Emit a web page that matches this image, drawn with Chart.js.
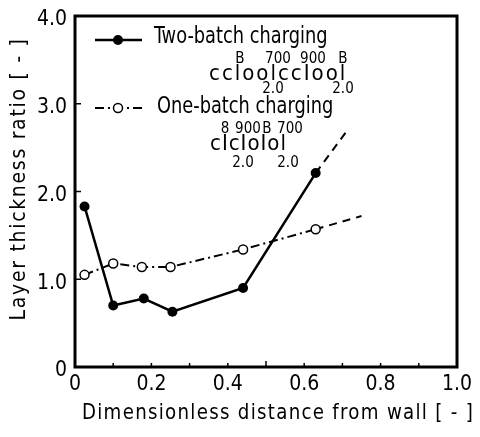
<!DOCTYPE html>
<html lang="en">
<head>
    <meta charset="UTF-8">
    <title>Layer thickness ratio</title>
    <style>
        html, body { margin: 0; padding: 0; background: #fff; }
        #wrap { width: 480px; height: 437px; }
    </style>
</head>
<body>
    <div id="wrap"><canvas id="thicknessChart"></canvas></div>

    <script src="https://cdn.jsdelivr.net/npm/chart.js"></script>
    <script>
        // data
        const twoBatchX = [0.025, 0.10, 0.18, 0.255, 0.44, 0.63];
        const twoBatchY = [1.83, 0.70, 0.78, 0.63, 0.90, 2.21];
        const twoBatchExtX = [0.63, 0.71];
        const twoBatchExtY = [2.21, 2.68];

        const oneBatchX = [0.025, 0.10, 0.175, 0.25, 0.44, 0.63];
        const oneBatchY = [1.05, 1.18, 1.14, 1.14, 1.34, 1.57];
        const oneBatchExtX = [0.63, 0.75];
        const oneBatchExtY = [1.57, 1.72];

        const xTickLabels = ['0', '0.2', '0.4', '0.6', '0.8', '1.0'];
        const yTickLabels = ['0', '1.0', '2.0', '3.0', '4.0'];

        const FONT = "'Liberation Sans Narrow', 'DejaVu Sans Condensed', 'Roboto Condensed', sans-serif";

        function pts(xs, ys) {
            return xs.map((x, i) => ({ x: x, y: ys[i] }));
        }

        // narrow, tall text like the original lettering
        function narrowText(ctx, text, x, y, size, sx, spacing) {
            ctx.save();
            ctx.font = size + 'px ' + FONT;
            ctx.letterSpacing = (spacing || 0) + 'px';
            ctx.translate(x, y);
            ctx.scale(sx, 1);
            ctx.fillText(text, 0, 0);
            ctx.restore();
        }

        // frame, inner ticks, titles, legend and the formula notes
        const extras = {
            id: 'extras',
            afterDraw(chart) {
                const ctx = chart.ctx;
                const a = chart.chartArea;
                const xs = chart.scales.x;
                const ys = chart.scales.y;
                ctx.save();
                ctx.strokeStyle = '#000';
                ctx.lineWidth = 3;
                ctx.strokeRect(a.left, a.top, a.right - a.left, a.bottom - a.top);

                ctx.lineWidth = 1.5;
                for (let i = 1; i < 10; i++) {
                    const px = xs.getPixelForValue(i / 10);
                    ctx.beginPath();
                    ctx.moveTo(px, a.bottom);
                    ctx.lineTo(px, a.bottom - (i % 5 === 0 ? 6 : 4));
                    ctx.stroke();
                }
                for (let i = 1; i < 4; i++) {
                    const py = ys.getPixelForValue(i);
                    ctx.beginPath();
                    ctx.moveTo(a.left, py);
                    ctx.lineTo(a.left + 6, py);
                    ctx.stroke();
                }

                // legend samples
                ctx.lineWidth = 2.5;
                ctx.setLineDash([]);
                ctx.beginPath();
                ctx.moveTo(95, 40); ctx.lineTo(142, 40);
                ctx.stroke();
                ctx.fillStyle = '#000';
                ctx.beginPath();
                ctx.arc(118, 40, 5, 0, Math.PI * 2);
                ctx.fill();

                ctx.lineWidth = 2;
                ctx.setLineDash([9, 4, 2, 4]);
                ctx.beginPath();
                ctx.moveTo(95, 108); ctx.lineTo(142, 108);
                ctx.stroke();
                ctx.setLineDash([]);
                ctx.fillStyle = '#fff';
                ctx.lineWidth = 1.5;
                ctx.beginPath();
                ctx.arc(118, 108, 4.5, 0, Math.PI * 2);
                ctx.fill();
                ctx.stroke();

                ctx.fillStyle = '#000';
                ctx.textBaseline = 'middle';
                ctx.textAlign = 'left';
                narrowText(ctx, 'Two-batch charging', 154, 37, 23, 0.86, 0);
                narrowText(ctx, 'One-batch charging', 157, 107, 23, 0.86, 0);

                narrowText(ctx, 'ccloolccIool', 209, 74, 22, 1, 2);
                narrowText(ctx, 'cIcIoIol', 210, 144, 22, 1, 1);

                ctx.textAlign = 'center';
                ctx.font = '15px ' + FONT;
                [['B', 240], ['700', 278], ['900', 313], ['B', 343]].forEach(t => ctx.fillText(t[0], t[1], 59));
                [['2.0', 273], ['2.0', 343]].forEach(t => ctx.fillText(t[0], t[1], 89));
                [['8', 225], ['900', 248], ['B', 267], ['700', 290]].forEach(t => ctx.fillText(t[0], t[1], 129));
                [['2.0', 243], ['2.0', 288]].forEach(t => ctx.fillText(t[0], t[1], 163));

                // axis titles
                ctx.textAlign = 'center';
                narrowText(ctx, 'Dimensionless distance from wall [ - ]', 278, 413, 22, 0.92, 1.4);
                ctx.save();
                ctx.translate(20, 179);
                ctx.rotate(-Math.PI / 2);
                narrowText(ctx, 'Layer thickness ratio [ - ]', 0, 0, 21, 1, 1.7);
                ctx.restore();
                ctx.restore();
            }
        };

        new Chart(document.getElementById('thicknessChart'), {
            type: 'scatter',
            data: {
                datasets: [{
                    label: 'Two-batch charging',
                    data: pts(twoBatchX, twoBatchY),
                    showLine: true,
                    borderColor: '#000',
                    backgroundColor: '#000',
                    borderWidth: 2.5,
                    pointRadius: 5,
                    pointBorderWidth: 0
                }, {
                    label: 'Two-batch extension',
                    data: pts(twoBatchExtX, twoBatchExtY),
                    showLine: true,
                    borderColor: '#000',
                    borderWidth: 2,
                    borderDash: [8, 6],
                    pointRadius: 0
                }, {
                    label: 'One-batch charging',
                    data: pts(oneBatchX, oneBatchY),
                    showLine: true,
                    borderColor: '#000',
                    backgroundColor: '#fff',
                    borderWidth: 2,
                    borderDash: [9, 4, 2, 4],
                    pointRadius: 4.5,
                    pointBorderWidth: 1.5
                }, {
                    label: 'One-batch extension',
                    data: pts(oneBatchExtX, oneBatchExtY),
                    showLine: true,
                    borderColor: '#000',
                    borderWidth: 2,
                    borderDash: [8, 6],
                    pointRadius: 0
                }]
            },
            options: {
                responsive: true,
                maintainAspectRatio: false,
                animation: false,
                events: [],
                layout: { padding: { top: 16, right: 23, left: 0, bottom: 0 } },
                plugins: { legend: { display: false }, tooltip: { enabled: false } },
                scales: {
                    x: {
                        type: 'linear',
                        min: 0, max: 1,
                        afterFit: s => { s.height = 70; s.paddingLeft = 0; s.paddingRight = 0; },
                        grid: { display: false, drawTicks: false },
                        border: { display: false },
                        ticks: {
                            stepSize: 0.1,
                            autoSkip: false,
                            maxRotation: 0,
                            padding: 5,
                            color: '#000',
                            font: { family: FONT, size: 21 },
                            callback: v => {
                                const k = Math.round(v * 10);
                                return k % 2 === 0 ? xTickLabels[k / 2] : '';
                            }
                        }
                    },
                    y: {
                        type: 'linear',
                        min: 0, max: 4,
                        afterFit: s => { s.width = 75; s.paddingTop = 0; s.paddingBottom = 0; },
                        grid: { display: false, drawTicks: false },
                        border: { display: false },
                        ticks: {
                            stepSize: 1,
                            padding: 8,
                            labelOffset: 4,
                            color: '#000',
                            font: { family: FONT, size: 21 },
                            callback: v => yTickLabels[Math.round(v)]
                        }
                    }
                }
            },
            plugins: [extras]
        });
    </script>
</body>
</html>
